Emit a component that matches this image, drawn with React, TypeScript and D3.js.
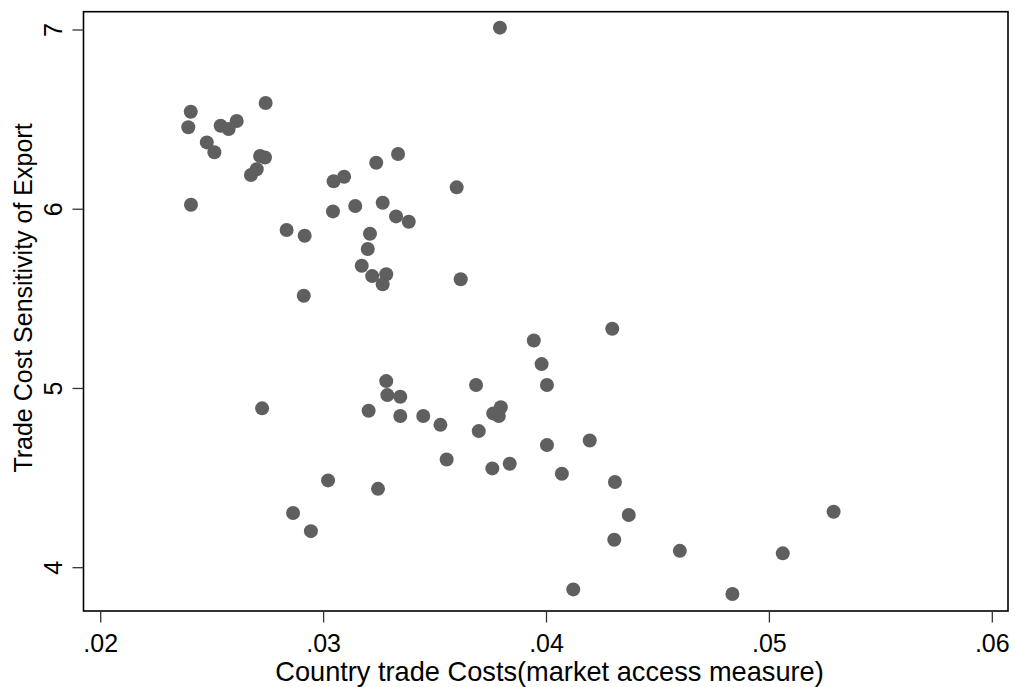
import React from "react";
import * as d3 from "d3";

const xValues = [
  0.03791, 0.02740, 0.02404, 0.02610, 0.02393, 0.02538, 0.02574, 0.02476, 0.02510, 0.02715,
  0.02737, 0.03334, 0.03236, 0.02700, 0.02674, 0.03092, 0.03045, 0.03597, 0.02405, 0.03265,
  0.03142, 0.03042, 0.03325, 0.03382, 0.02834, 0.02915, 0.03208, 0.03198, 0.03171, 0.03218,
  0.03281, 0.03265, 0.03615, 0.02911, 0.04295, 0.03943, 0.03978, 0.03281, 0.03684, 0.04002,
  0.02724, 0.03202, 0.03286, 0.03344, 0.03447, 0.03344, 0.03524, 0.03761, 0.03786, 0.03795,
  0.03696, 0.04194, 0.04002, 0.03552, 0.03757, 0.03835, 0.04069, 0.04307, 0.03020, 0.03244,
  0.04369, 0.05288, 0.02863, 0.02943, 0.04304, 0.04598, 0.05060, 0.04120, 0.04834,
];
const yValues = [
  7.013, 6.593, 6.544, 6.492, 6.457, 6.466, 6.448, 6.373, 6.318, 6.297,
  6.289, 6.308, 6.259, 6.223, 6.191, 6.181, 6.156, 6.122, 6.025, 6.036,
  6.018, 5.988, 5.960, 5.930, 5.884, 5.852, 5.863, 5.778, 5.685, 5.627,
  5.637, 5.581, 5.609, 5.517, 5.333, 5.268, 5.136, 5.041, 5.019, 5.019,
  4.889, 4.876, 4.963, 4.954, 4.846, 4.846, 4.797, 4.861, 4.846, 4.895,
  4.762, 4.710, 4.684, 4.604, 4.554, 4.580, 4.524, 4.478, 4.487, 4.440,
  4.294, 4.312, 4.305, 4.204, 4.156, 4.094, 4.080, 3.879, 3.853,
];
const xTicks = [0.02, 0.03, 0.04, 0.05, 0.06];
const xTickLabels = [".02", ".03", ".04", ".05", ".06"];
const yTicks = [4, 5, 6, 7];
const yTickLabels = ["4", "5", "6", "7"];
const xTitle = "Country trade Costs(market access measure)";
const yTitle = "Trade Cost Sensitivity of Export";

const W = 1015;
const H = 687;
const plot = { left: 83.5, top: 11.7, right: 1008, bottom: 611 };
const font = "Liberation Sans, Arial, Helvetica, sans-serif";

export default function App() {
  const x = d3.scaleLinear().domain([0.019228, 0.060704]).range([plot.left, plot.right]);
  const y = d3.scaleLinear().domain([3.7584, 7.1021]).range([plot.bottom, plot.top]);
  return (
    <svg
      width={W}
      height={H}
      style={{ position: "absolute", left: 0, top: 0, background: "#fff" }}
      fontFamily={font}
    >
      <rect x={0} y={0} width={W} height={H} fill="#fff" />
      {xValues.map((v, i) => (
        <circle key={i} cx={x(v)} cy={y(yValues[i])} r={7} fill="#5f5f5f" />
      ))}
      <rect
        x={plot.left}
        y={plot.top}
        width={plot.right - plot.left}
        height={plot.bottom - plot.top}
        fill="none"
        stroke="#000"
        strokeWidth={1.6}
      />
      {xTicks.map((t, i) => (
        <g key={"xt" + i}>
          <line x1={x(t)} x2={x(t)} y1={plot.bottom} y2={plot.bottom + 11.5} stroke="#333" strokeWidth={1.3} />
          <text x={x(t)} y={652} fontSize={25} textAnchor="middle" fill="#000">
            {xTickLabels[i]}
          </text>
        </g>
      ))}
      {yTicks.map((t, i) => (
        <g key={"yt" + i}>
          <line x1={plot.left - 11} x2={plot.left} y1={y(t)} y2={y(t)} stroke="#333" strokeWidth={1.3} />
          <text
            transform={`translate(62,${y(t)}) rotate(-90)`}
            fontSize={25}
            textAnchor="middle"
            fill="#000"
          >
            {yTickLabels[i]}
          </text>
        </g>
      ))}
      <text x={549.5} y={681} fontSize={27.2} textAnchor="middle" fill="#000">
        {xTitle}
      </text>
      <text
        transform={`translate(32,298) rotate(-90)`}
        fontSize={25}
        textAnchor="middle"
        fill="#000"
      >
        {yTitle}
      </text>
    </svg>
  );
}
